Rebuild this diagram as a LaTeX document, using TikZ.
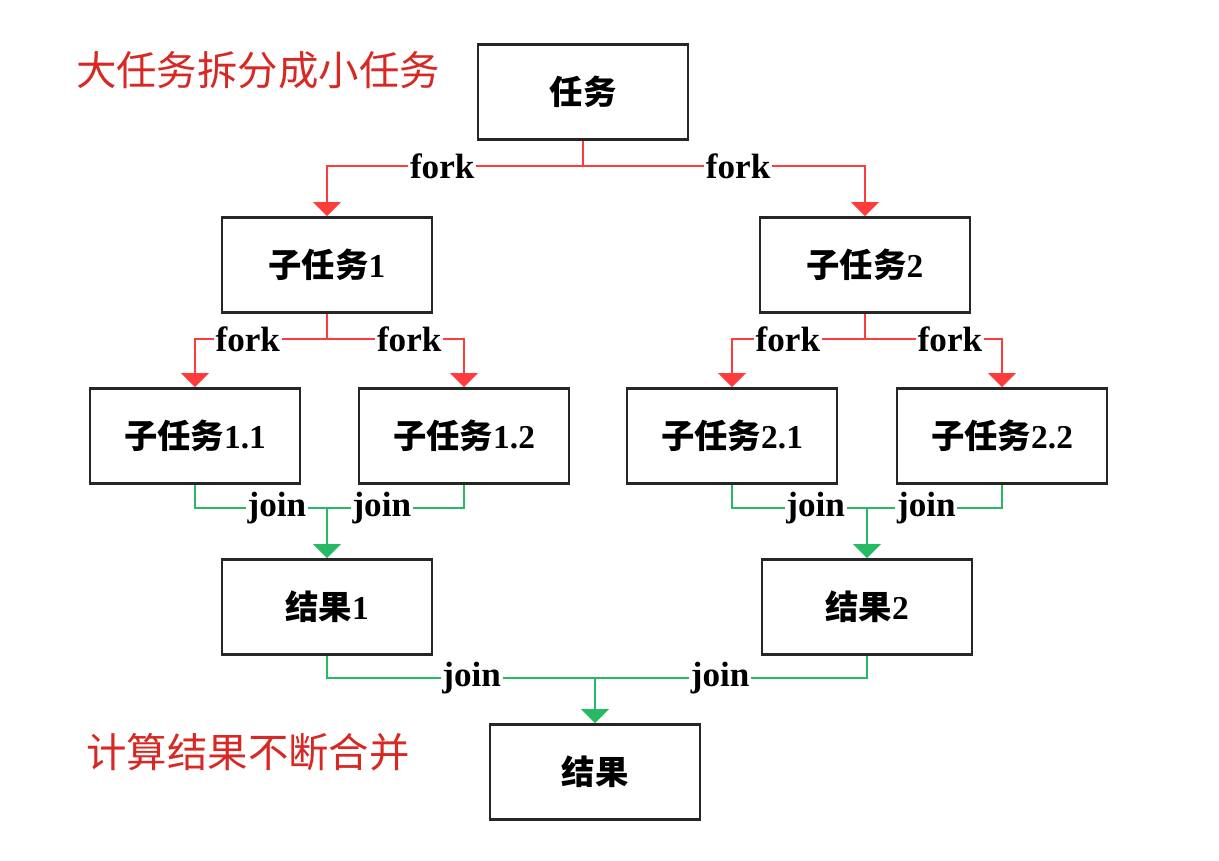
\documentclass[tikz,border=0pt]{standalone}
\usepackage{fontspec}
\setmainfont{Liberation Serif}
\newfontfamily\cjk{Noto Sans CJK SC}
\newcommand{\zh}[1]{{\cjk #1}}
\usetikzlibrary{arrows.meta,positioning}
\definecolor{forkred}{RGB}{255,60,60}
\definecolor{joingreen}{RGB}{40,185,100}
\definecolor{notered}{RGB}{215,40,35}
\begin{document}
\begin{tikzpicture}
    [%%%%%%%%%%%%%%%%%%%%%%%%%%%%%%
        x=0.02cm, y=-0.02cm,
        box/.style={rectangle,draw=black!85,line width=1.5pt,minimum width=4.2cm,minimum height=1.9cm,font=\fontsize{19}{22}\selectfont\bfseries},
        tag/.style={fill=white,inner sep=1pt,font=\fontsize{20}{22}\selectfont\bfseries},
        forkline/.style={draw=forkred,line width=1.4pt,-{Triangle[width=0.55cm,length=0.28cm]}},
        joinline/.style={draw=joingreen,line width=1.2pt},
        note/.style={text=notered,font=\cjk\fontsize{23}{26}\selectfont},
    ]%%%%%%%%%%%%%%%%%%%%%%%%%%%%%%
    \useasboundingbox (0,0) rectangle (1219,860);

    \node[note] (split) at (258,70) {大任务拆分成小任务};
    \node[note] (merge) at (248,752) {计算结果不断合并};

    \node[box] (task) at (583,92) {\zh{任务}};
    \node[box] (sub1) at (327,265) {\zh{子任务}1};
    \node[box] (sub2) at (865,265) {\zh{子任务}2};

    \node[box] (sub11) at (195,436) {\zh{子任务}1.1};
    \node[box] (sub12) at (464,436) {\zh{子任务}1.2};
    \node[box] (sub21) at (732,436) {\zh{子任务}2.1};
    \node[box] (sub22) at (1002,436) {\zh{子任务}2.2};

    \node[box] (res1) at (327,607) {\zh{结果}1};
    \node[box] (res2) at (867,607) {\zh{结果}2};
    \node[box] (res) at (595,772) {\zh{结果}};

    % fork
    \coordinate[below=0.5cm of task] (f0);
    \coordinate[below=0.5cm of sub1] (f1);
    \coordinate[below=0.5cm of sub2] (f2);
    \draw[forkline] (task.south) -- (f0) -| node[tag,pos=0.275] {fork} (sub1);
    \draw[forkline] (task.south) -- (f0) -| node[tag,pos=0.275] {fork} (sub2);
    \draw[forkline] (sub1.south) -- (f1) -| node[tag,pos=0.3] {fork} (sub11);
    \draw[forkline] (sub1.south) -- (f1) -| node[tag,pos=0.3] {fork} (sub12);
    \draw[forkline] (sub2.south) -- (f2) -| node[tag,pos=0.29] {fork} (sub21);
    \draw[forkline] (sub2.south) -- (f2) -| node[tag,pos=0.31] {fork} (sub22);

    % join
    \coordinate[above=1cm of res1] (j1);
    \coordinate[above=1cm of res2] (j2);
    \coordinate[above=0.9cm of res] (j3);
    \draw[joinline] (sub11.south) |- node[tag,pos=0.81] {join} (j1);
    \draw[joinline] (sub12.south) |- node[tag,pos=0.8] {join} (j1);
    \draw[joinline] (sub21.south) |- node[tag,pos=0.81] {join} (j2);
    \draw[joinline] (sub22.south) |- node[tag,pos=0.78] {join} (j2);
    \draw[joinline] (res1.south) |- node[tag,pos=0.77] {join} (j3);
    \draw[joinline] (res2.south) |- node[tag,pos=0.77] {join} (j3);
    \draw[joinline,-{Triangle[width=0.55cm,length=0.28cm]}] (j1) -- (res1);
    \draw[joinline,-{Triangle[width=0.55cm,length=0.28cm]}] (j2) -- (res2);
    \draw[joinline,-{Triangle[width=0.55cm,length=0.28cm]}] (j3) -- (res);

\end{tikzpicture}
\end{document}
